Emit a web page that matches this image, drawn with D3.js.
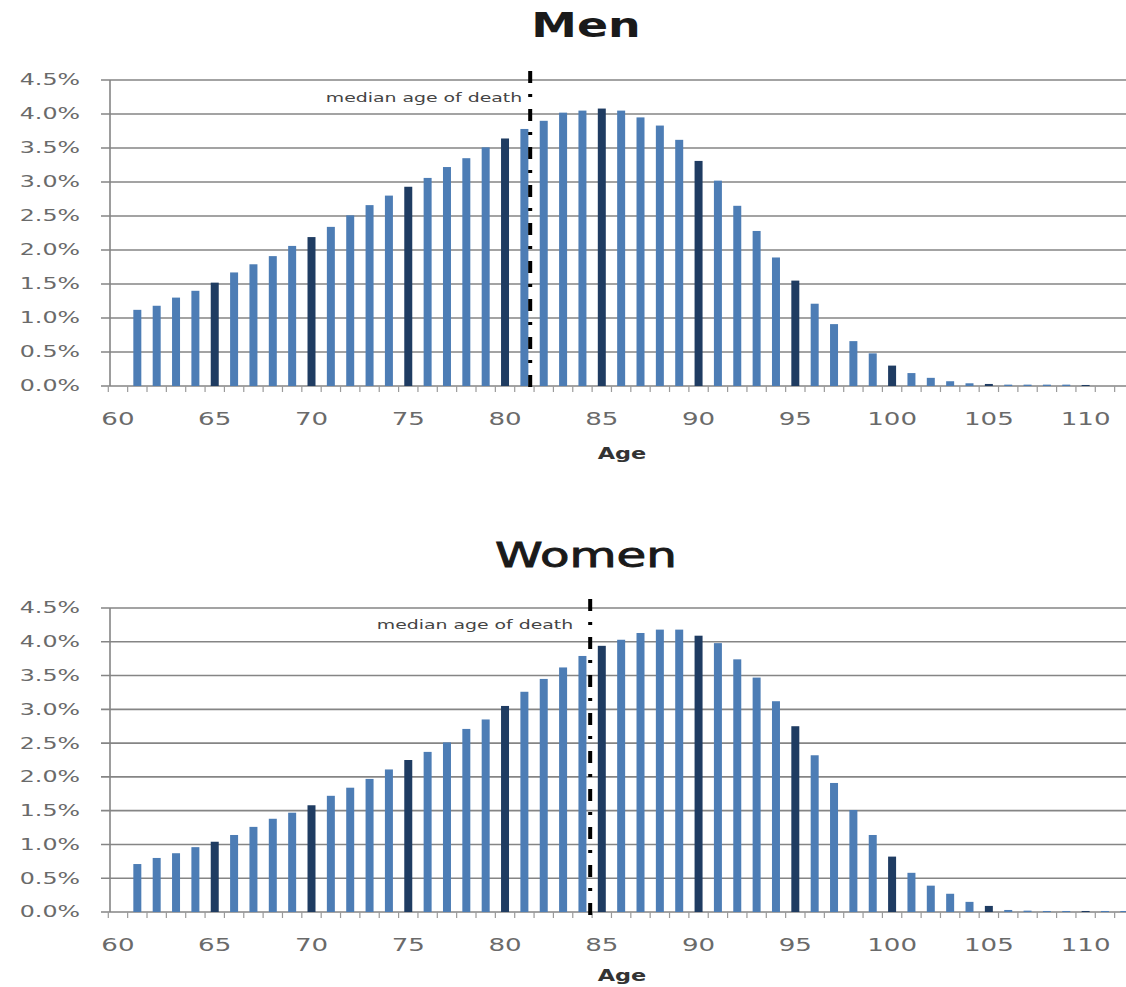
<!DOCTYPE html>
<html>
<head>
<meta charset="utf-8">
<script src="https://cdn.jsdelivr.net/npm/d3@7"></script>
<style>
  body { margin: 0; background: #fff; }
  svg { display: block; }
</style>
</head>
<body>
<svg id="chart" width="1126" height="987"></svg>
<script>
// Share of deaths (%) at each age, from age 60 upward
const ages = d3.range(60, 113);
const menShare = [
  0,
  1.12, 1.18, 1.30, 1.40, 1.52, 1.67, 1.79, 1.91, 2.06, 2.19,
  2.34, 2.51, 2.66, 2.80, 2.93, 3.06, 3.22, 3.35, 3.51, 3.64,
  3.78, 3.90, 4.02, 4.05, 4.08, 4.05, 3.95, 3.83, 3.62, 3.31,
  3.02, 2.65, 2.28, 1.89, 1.55, 1.21, 0.91, 0.66, 0.48, 0.30,
  0.19, 0.12, 0.07, 0.04, 0.03, 0.02, 0.02, 0.02, 0.02, 0.015,
  0, 0
];
const womenShare = [
  0,
  0.71, 0.80, 0.87, 0.96, 1.04, 1.14, 1.26, 1.38, 1.47, 1.58,
  1.72, 1.84, 1.97, 2.11, 2.25, 2.37, 2.51, 2.71, 2.85, 3.05,
  3.26, 3.45, 3.62, 3.79, 3.94, 4.03, 4.13, 4.18, 4.18, 4.09,
  3.98, 3.74, 3.47, 3.12, 2.75, 2.32, 1.91, 1.51, 1.14, 0.82,
  0.58, 0.39, 0.27, 0.15, 0.09, 0.03, 0.02, 0.015, 0.015, 0.015,
  0.015, 0.015
];
const yTicks = [0, 0.5, 1.0, 1.5, 2.0, 2.5, 3.0, 3.5, 4.0, 4.5];
const xTickLabels = [60, 65, 70, 75, 80, 85, 90, 95, 100, 105, 110];
const medianAgeMen = 81.3;
const medianAgeWomen = 84.4;
const panelTitles = ["Men", "Women"];
const medianText = "median age of death";
const axisTitle = "Age";

// Panel placement
const panels = [
  { title: panelTitles[0], values: menShare, median: medianAgeMen,
    top: 80, bottom: 386, titleY: 37, titleBold: true,
    tickY: 425, axisTitleY: 459, labelGap: 8 },
  { title: panelTitles[1], values: womenShare, median: medianAgeWomen,
    top: 608, bottom: 912, titleY: 567, titleBold: false,
    tickY: 951, axisTitleY: 981, labelGap: 17 }
];

const svg = d3.select("#chart");
const font = "'DejaVu Sans', Verdana, sans-serif";
const axisX = 110;
const gridRight = 1134;
const baseColor = "#4d7db5";
const darkColor = "#1f3c62";

const x = d3.scaleBand()
  .domain(ages)
  .range([108.3, 1134])
  .paddingInner(0.587)
  .paddingOuter(0.2935);
const step = x.step();
const center = a => x(a) + x.bandwidth() / 2;
// continuous age position, used for the median marker
const ageX = d3.scaleLinear().domain([60, 61]).range([center(60), center(61)]);

// widen text to a given factor of its natural width
function stretch(sel, k) {
  sel.each(function () {
    const w = this.getComputedTextLength();
    this.setAttribute("textLength", (w * k).toFixed(1));
    this.setAttribute("lengthAdjust", "spacingAndGlyphs");
  });
}

panels.forEach(p => {
  const y = d3.scaleLinear().domain([0, 4.5]).range([p.bottom, p.top]);
  const g = svg.append("g");

  // title
  const t = g.append("text")
    .attr("x", 586).attr("y", p.titleY)
    .attr("text-anchor", "middle")
    .attr("font-family", font)
    .attr("font-size", 34)
    .attr("font-weight", p.titleBold ? "bold" : "normal")
    .attr("fill", "#1a1a1a")
    .attr("stroke", p.titleBold ? "none" : "#1a1a1a")
    .attr("stroke-width", p.titleBold ? 0 : 0.9)
    .text(p.title);
  stretch(t, p.titleBold ? 1.35 : 1.42);

  // horizontal gridlines with left ticks
  g.append("g").selectAll("line")
    .data(yTicks)
    .join("line")
    .attr("x1", axisX - 9).attr("x2", gridRight)
    .attr("y1", d => y(d)).attr("y2", d => y(d))
    .attr("stroke", "#858585")
    .attr("stroke-width", 1.6);

  // y-axis line
  g.append("line")
    .attr("x1", axisX).attr("x2", axisX)
    .attr("y1", y(4.5)).attr("y2", y(0))
    .attr("stroke", "#858585").attr("stroke-width", 1.6);

  // y tick labels
  const yl = g.append("g").selectAll("text")
    .data(yTicks)
    .join("text")
    .attr("x", 80).attr("y", d => y(d))
    .attr("dy", "0.36em")
    .attr("text-anchor", "end")
    .attr("font-family", font)
    .attr("font-size", 15)
    .attr("fill", "#6a6a6a")
    .text(d => d3.format(".1f")(d) + "%");
  stretch(yl, 1.58);

  // x ticks between categories
  g.append("g").selectAll("line")
    .data(ages)
    .join("line")
    .attr("x1", d => x(d) - step * 0.2935)
    .attr("x2", d => x(d) - step * 0.2935)
    .attr("y1", y(0)).attr("y2", y(0) + 6)
    .attr("stroke", "#9a9a9a").attr("stroke-width", 1.2);

  // bars
  g.append("g").selectAll("rect")
    .data(ages.map((a, i) => ({ age: a, v: p.values[i] })))
    .join("rect")
    .attr("x", d => x(d.age))
    .attr("width", x.bandwidth())
    .attr("y", d => y(d.v))
    .attr("height", d => y(0) - y(d.v))
    .attr("fill", d => d.age % 5 === 0 ? darkColor : baseColor);

  // x tick labels
  const xl = g.append("g").selectAll("text")
    .data(xTickLabels)
    .join("text")
    .attr("x", d => center(d)).attr("y", p.tickY)
    .attr("text-anchor", "middle")
    .attr("font-family", font)
    .attr("font-size", 18)
    .attr("fill", "#6a6a6a")
    .text(d => d);
  stretch(xl, 1.45);

  // axis title
  const at = g.append("text")
    .attr("x", 622).attr("y", p.axisTitleY)
    .attr("text-anchor", "middle")
    .attr("font-family", font)
    .attr("font-size", 16)
    .attr("font-weight", "bold")
    .attr("fill", "#333")
    .text(axisTitle);
  stretch(at, 1.4);

  // median marker
  const mx = ageX(p.median);
  g.append("line")
    .attr("x1", mx).attr("x2", mx)
    .attr("y1", y(4.5) - 9).attr("y2", y(0) + 9)
    .attr("stroke", "#000")
    .attr("stroke-width", 4)
    .attr("stroke-dasharray", "12,11,3,12");

  const ml = g.append("text")
    .attr("x", mx - p.labelGap).attr("y", y(4.25))
    .attr("dy", "0.35em")
    .attr("text-anchor", "end")
    .attr("font-family", font)
    .attr("font-size", 13)
    .attr("fill", "#444")
    .text(medianText);
  stretch(ml, 1.45);
});
</script>
</body>
</html>
